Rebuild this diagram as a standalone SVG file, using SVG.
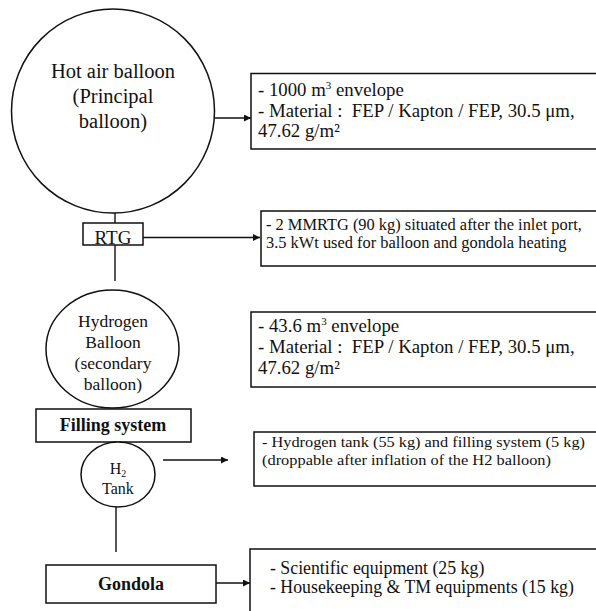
<svg xmlns="http://www.w3.org/2000/svg" width="596" height="611" viewBox="0 0 596 611">
<style>
text{font-family:"Liberation Serif","Times New Roman",serif;fill:#111}
.shape{fill:#fff;stroke:#111;stroke-width:1.5}
.line{fill:none;stroke:#111;stroke-width:1.4}
.c{text-anchor:middle}
.b{font-weight:bold}
.t18{font-size:18.8px}
.t16{font-size:16.4px}
.t17{font-size:17.8px}
</style>
<defs>
<marker id="ah" viewBox="0 0 10 10" refX="10" refY="5" markerWidth="7" markerHeight="7" markerUnits="userSpaceOnUse" orient="auto">
<path d="M0,0 L10,5 L0,10 z" fill="#111"/>
</marker>
</defs>
<rect width="596" height="611" fill="#fff"/>
<g id="connectors">
<line class="line" x1="214" y1="118" x2="251" y2="118" marker-end="url(#ah)"/>
<line class="line" x1="115" y1="213" x2="115" y2="223"/>
<line class="line" x1="143" y1="237.5" x2="260" y2="237.5" marker-end="url(#ah)"/>
<line class="line" x1="115" y1="245" x2="115" y2="281"/>
<line class="line" x1="163" y1="460" x2="228" y2="460" marker-end="url(#ah)"/>
<line class="line" x1="116" y1="507" x2="116" y2="552"/>
<line class="line" x1="216" y1="583" x2="250" y2="583" marker-end="url(#ah)"/>
</g>
<g id="hot-air-balloon">
<ellipse class="shape" cx="113" cy="111" rx="101.5" ry="102"/>
<text class="c" x="113" y="78" font-size="20.5">Hot air balloon</text>
<text class="c" x="113" y="103" font-size="20.5">(Principal</text>
<text class="c" x="113" y="128" font-size="20.5">balloon)</text>
</g>
<g id="box-envelope-1">
<rect class="shape" x="251" y="73.5" width="360" height="75.5"/>
<text x="258" y="95.5" class="t18">- 1000 m<tspan dy="-7" font-size="11">3</tspan><tspan dy="7"> envelope</tspan></text>
<text x="258" y="116.5" class="t18" xml:space="preserve">- Material :  FEP / Kapton / FEP, 30.5 μm,</text>
<text x="258" y="137" class="t18">47.62 g/m²</text>
</g>
<g id="rtg">
<rect class="shape" x="83" y="223" width="60" height="22"/>
<text class="c" x="113" y="244" font-size="19">RTG</text>
</g>
<g id="box-rtg">
<rect class="shape" x="261" y="211" width="350" height="55"/>
<text x="266" y="230" class="t16">- 2 MMRTG (90 kg) situated after the inlet port,</text>
<text x="266" y="248" class="t16">3.5 kWt used for balloon and gondola heating</text>
</g>
<g id="hydrogen-balloon">
<ellipse class="shape" cx="112.5" cy="349" rx="66.5" ry="59"/>
<text class="c" x="113" y="327" font-size="17.5">Hydrogen</text>
<text class="c" x="113" y="348" font-size="17.5">Balloon</text>
<text class="c" x="113" y="369" font-size="17.5">(secondary</text>
<text class="c" x="113" y="390" font-size="17.5">balloon)</text>
</g>
<g id="box-envelope-2">
<rect class="shape" x="251" y="312" width="360" height="75"/>
<text x="258" y="332" class="t18">- 43.6 m<tspan dy="-7" font-size="11">3</tspan><tspan dy="7"> envelope</tspan></text>
<text x="258" y="353" class="t18" xml:space="preserve">- Material :  FEP / Kapton / FEP, 30.5 μm,</text>
<text x="258" y="373.5" class="t18">47.62 g/m²</text>
</g>
<g id="filling-system">
<rect class="shape" x="36" y="409" width="155" height="33"/>
<text class="c b" x="113" y="430.5" font-size="18">Filling system</text>
</g>
<g id="h2-tank">
<ellipse class="shape" cx="118" cy="474.5" rx="37" ry="32.5"/>
<text class="c" x="118" y="474" font-size="16">H<tspan dy="3" font-size="10">2</tspan></text>
<text class="c" x="118" y="494" font-size="16">Tank</text>
</g>
<g id="box-tank">
<rect class="shape" x="254" y="432" width="360" height="54"/>
<text x="262" y="447" font-size="15.5" textLength="323" lengthAdjust="spacingAndGlyphs">- Hydrogen tank (55 kg) and filling system (5 kg)</text>
<text x="262" y="465" font-size="15.5" textLength="289" lengthAdjust="spacingAndGlyphs">(droppable after inflation of the H2 balloon)</text>
</g>
<g id="gondola">
<rect class="shape" x="46" y="565" width="170" height="38"/>
<text class="c b" x="131" y="590" font-size="18">Gondola</text>
</g>
<g id="box-gondola">
<rect class="shape" x="250" y="549" width="360" height="80"/>
<text x="270" y="574" class="t17">- Scientific equipment (25 kg)</text>
<text x="270" y="593" class="t17">- Housekeeping &amp; TM equipments (15 kg)</text>
</g>
</svg>
